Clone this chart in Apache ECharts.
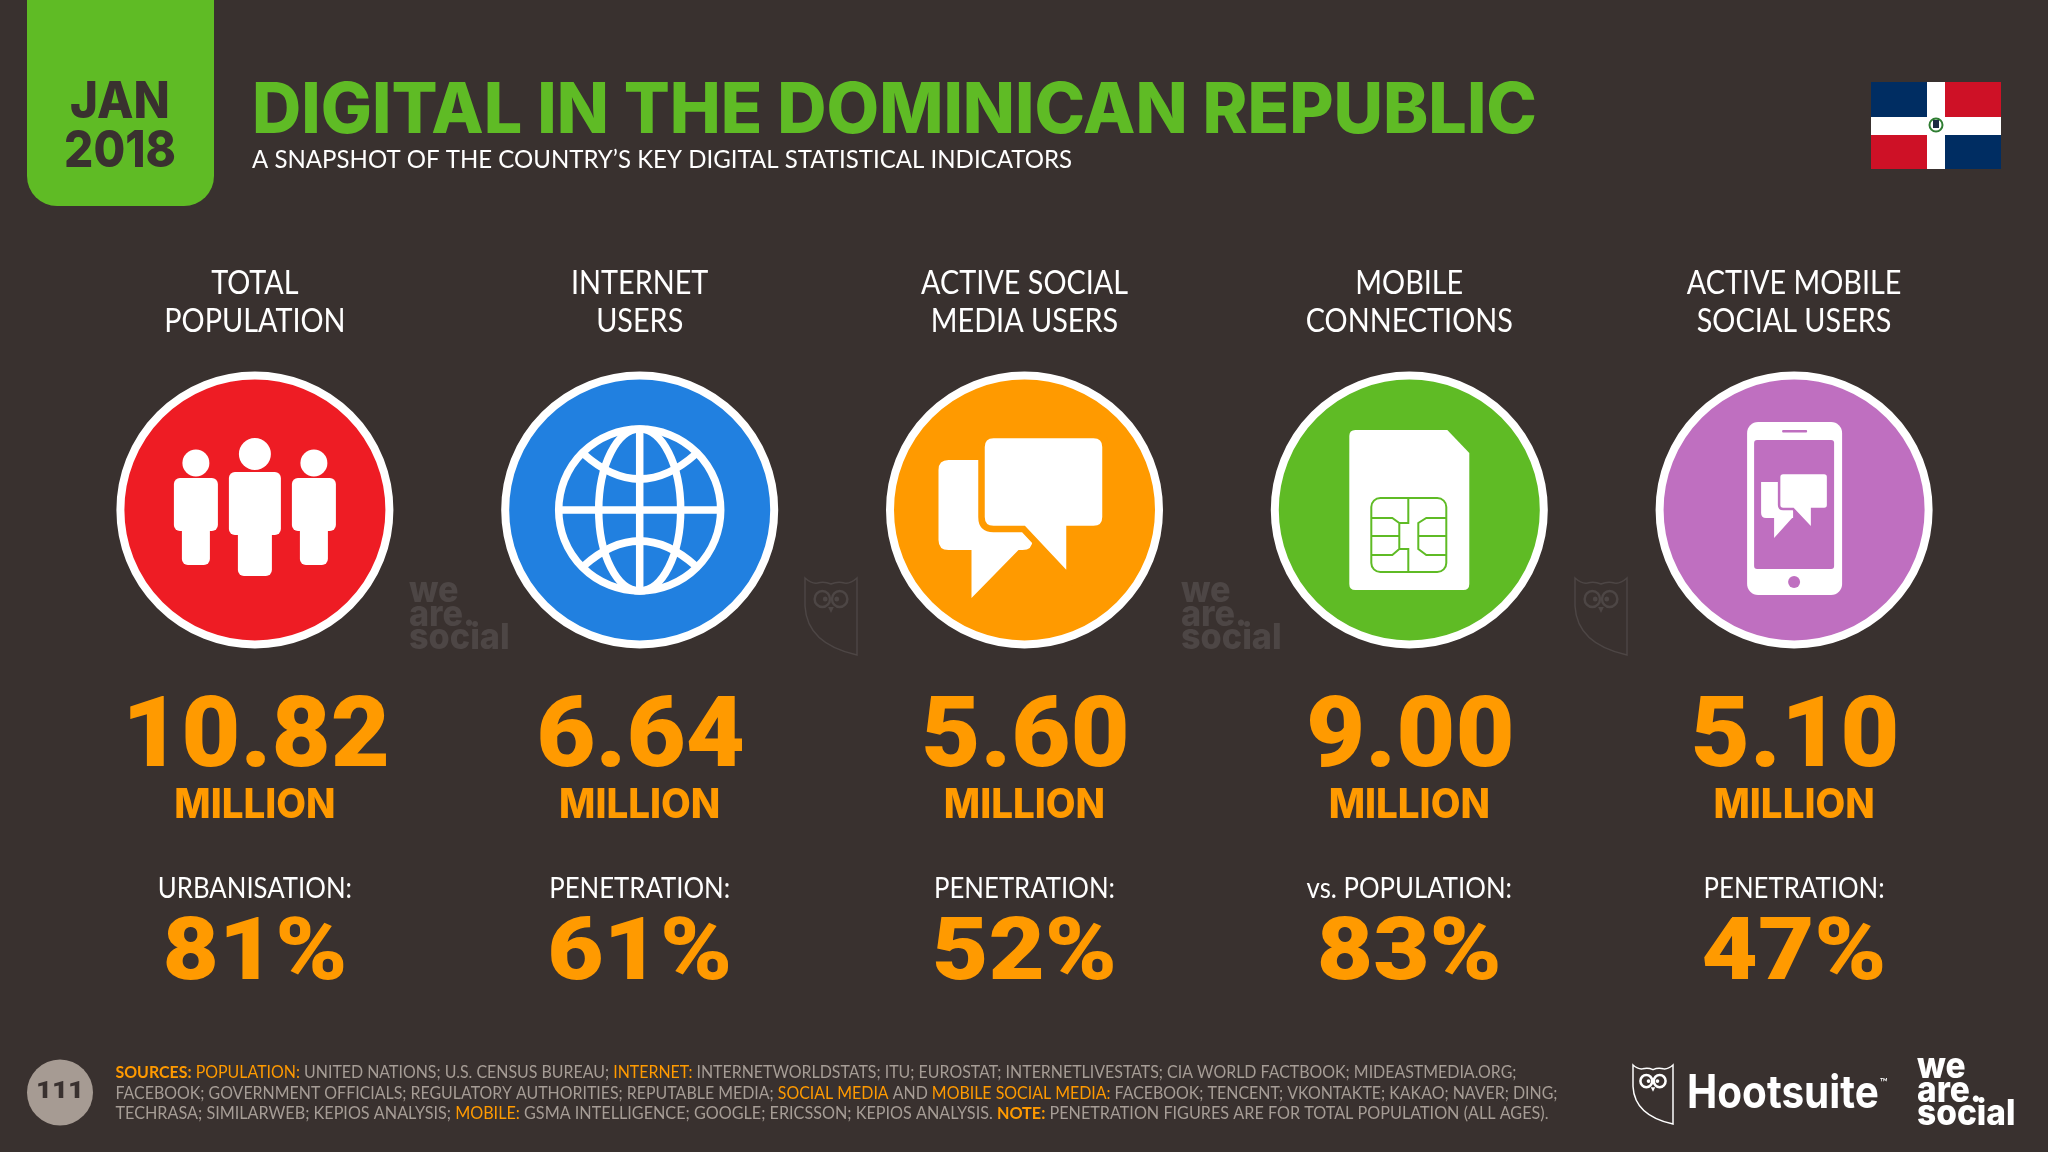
<!DOCTYPE html>
<html>
<head>
<meta charset="utf-8">
<title>Digital in the Dominican Republic</title>
<style>
  html, body { margin: 0; padding: 0; background: #39312f; }
  #chart { width: 2048px; height: 1152px; }
</style>
</head>
<body>
<div id="chart"></div>
<script src="https://cdn.jsdelivr.net/npm/echarts@6/dist/echarts.min.js"></script>
<script>
const headerLines = [
  ["TOTAL", "POPULATION"],
  ["INTERNET", "USERS"],
  ["ACTIVE SOCIAL", "MEDIA USERS"],
  ["MOBILE", "CONNECTIONS"],
  ["ACTIVE MOBILE", "SOCIAL USERS"]
]
const totals = [10.82, 6.64, 5.60, 9.00, 5.10]
const unitLabel = "MILLION"
const shareLabels = ["URBANISATION:", "PENETRATION:", "PENETRATION:", "vs. POPULATION:", "PENETRATION:"]
const shares = [81, 61, 52, 83, 47]
const discColors = ["#ee1c24", "#2180e0", "#ff9a00", "#5fbb25", "#bf6fc0"]
const iconNames = ["people", "globe", "chat", "sim", "phone"]

const sourceLines = [
  [["SOURCES:", "bold"], [" POPULATION:", "hi"], [" UNITED NATIONS; U.S. CENSUS BUREAU; ", "low"], ["INTERNET:", "hi"], [" INTERNETWORLDSTATS; ITU; EUROSTAT; INTERNETLIVESTATS; CIA WORLD FACTBOOK; MIDEASTMEDIA.ORG;", "low"]],
  [["FACEBOOK; GOVERNMENT OFFICIALS; REGULATORY AUTHORITIES; REPUTABLE MEDIA; ", "low"], ["SOCIAL MEDIA", "hi"], [" AND ", "low"], ["MOBILE SOCIAL MEDIA:", "hi"], [" FACEBOOK; TENCENT; VKONTAKTE; KAKAO; NAVER; DING;", "low"]],
  [["TECHRASA; SIMILARWEB; KEPIOS ANALYSIS; ", "low"], ["MOBILE:", "hi"], [" GSMA INTELLIGENCE; GOOGLE; ERICSSON; KEPIOS ANALYSIS. ", "low"], ["NOTE:", "bold"], [" PENETRATION FIGURES ARE FOR TOTAL POPULATION (ALL AGES).", "low"]]
]

const BG = "#39312f"
const GREEN = "#5fbb25"
const ORANGE = "#ff9a00"
const WHITE = "#ffffff"
const GREY = "#a69d96"
const MARK = "#4d4645"
const THIN = "Lato, sans-serif"
const HEAVY = "Inter, sans-serif"
const DIGITS = "Roboto, sans-serif"

const measure = document.createElement("canvas").getContext("2d")

function widthOf(text, font) {
  measure.font = font
  return measure.measureText(text).width
}

function label(text, x, y, size, weight, family, fill, squeeze, align) {
  return {
    type: "text",
    x,
    y,
    scaleX: squeeze,
    style: {
      text,
      fill,
      font: `${weight} ${size}px ${family}`,
      align: align || "center",
      verticalAlign: "middle"
    }
  }
}

function fitted(text, x, y, size, weight, family, fill, width) {
  const squeeze = width / widthOf(text, `${weight} ${size}px ${family}`)
  return label(text, x, y, size, weight, family, fill, squeeze, "left")
}

function box(x, y, w, h, r, fill) {
  return { type: "rect", shape: { x, y, width: w, height: h, r }, style: { fill } }
}

function path(d, style) {
  return { type: "path", shape: { pathData: d }, style }
}

function person(dx, headY, headR, halfBody, bodyTop, bodyBottom, halfLeg, legBottom) {
  return [
    { type: "circle", shape: { cx: dx, cy: headY, r: headR }, style: { fill: WHITE } },
    box(dx - halfBody, bodyTop, halfBody * 2, bodyBottom - bodyTop, 6, WHITE),
    box(dx - halfLeg, bodyBottom - 8, halfLeg * 2, legBottom - bodyBottom + 8, 6, WHITE)
  ]
}

function peopleIcon() {
  return [
    ...person(-59, -47, 13.5, 22, -32, 21, 14, 55),
    ...person(59, -47, 13.5, 22, -32, 21, 14, 55),
    ...person(0, -56, 16, 26, -38, 25, 17, 66)
  ]
}

function globeIcon() {
  const line = { fill: "none", stroke: WHITE, lineWidth: 7.5 }
  return [
    { type: "circle", shape: { cx: 0, cy: 0, r: 81 }, style: line },
    { type: "ellipse", shape: { cx: 0, cy: 0, rx: 41, ry: 81 }, style: line },
    path("M0 -81 L0 81 M-81 0 L81 0", line),
    path("M-56 -56 Q0 -6 56 -56 M-56 56 Q0 6 56 56", line)
  ]
}

function bubble(left, top, right, bottom, r) {
  return `M${left + r} ${top} L${right - r} ${top} Q${right} ${top} ${right} ${top + r} L${right} ${bottom - r} Q${right} ${bottom} ${right - r} ${bottom} `
}

function chatIcon(fill) {
  const back = `${bubble(-86, -50, 8, 40, 10)}L-6 40 L-53 88 L-53 40 L-76 40 Q-86 40 -86 30 L-86 -40 Q-86 -50 -76 -50 Z`
  const front = `${bubble(-43, -75, 81, 19, 12)}L45 19 L45 68 L-1 19 L-31 19 Q-43 19 -43 7 L-43 -63 Q-43 -75 -31 -75 Z`
  return [
    path(back, { fill: WHITE }),
    path(front, { fill: WHITE, stroke: fill, lineWidth: 6.5 })
  ]
}

function simIcon(fill) {
  const chip = { fill: "none", stroke: fill, lineWidth: 2 }
  return [
    path("M-54 -80 L38 -80 L60 -57 L60 74 Q60 80 54 80 L-54 80 Q-60 80 -60 74 L-60 -74 Q-60 -80 -54 -80 Z", { fill: WHITE }),
    { type: "rect", shape: { x: -38, y: -12, width: 75, height: 74, r: 9 }, style: chip },
    path("M-38 8 L-17 8 L-10 13 L-1 13 L-1 -12 M-38 45 L-17 45 L-10 39 L-1 39 L-1 62 M-10 13 L-10 39 M-38 26 L-10 26 M37 8 L17 8 L9 13 L9 39 L17 45 L37 45 M9 26 L37 26", chip)
  ]
}

function phoneIcon(fill) {
  const small = "M-33 -28 L-1 -28 L-1 8 L-2 8 L-20 28 L-20 8 L-28 8 Q-33 8 -33 3 Z"
  const big = "M-11 -37 L30 -37 Q34 -37 34 -33 L34 -5 Q34 -1 30 -1 L18 -1 L18 19 L-1 -1 L-11 -1 Q-15 -1 -15 -5 L-15 -33 Q-15 -37 -11 -37 Z"
  return [
    box(-47, -88, 95, 173, 11, WHITE),
    box(-40, -70, 80, 129, 3, fill),
    box(-12, -80, 25, 2.5, 1, fill),
    { type: "circle", shape: { cx: 0, cy: 72, r: 6 }, style: { fill } },
    path(small, { fill: WHITE }),
    path(big, { fill: WHITE, stroke: fill, lineWidth: 2.5 })
  ]
}

const iconBuilders = { people: peopleIcon, globe: globeIcon, chat: chatIcon, sim: simIcon, phone: phoneIcon }

const totalFont = `900 98px ${DIGITS}`
const shareFont = `900 87px ${DIGITS}`

function renderColumn(params, api) {
  const i = params.dataIndex
  const x = api.coord([i, 0])[0]
  const fill = discColors[i]
  // digits are tabular, so one squeeze from the widest value holds for every column
  const totalSqueeze = 268 / widthOf(totals[0].toFixed(2), totalFont)
  const shareSqueeze = 185 / widthOf(`${shares[0]}%`, shareFont)
  return {
    type: "group",
    children: [
      label(headerLines[i][0], x, 284, 32, 400, THIN, WHITE, 0.9),
      label(headerLines[i][1], x, 322, 32, 400, THIN, WHITE, 0.9),
      { type: "circle", shape: { cx: x, cy: 510, r: 134.5 }, style: { fill, stroke: WHITE, lineWidth: 8 } },
      { type: "group", x, y: 510, children: iconBuilders[iconNames[i]](fill) },
      label(totals[i].toFixed(2), x + 1, 741, 98, 900, DIGITS, ORANGE, totalSqueeze),
      label(unitLabel, x, 806, 41, 800, HEAVY, ORANGE, 0.94),
      label(shareLabels[i], x, 889, 28, 400, THIN, WHITE, 0.92),
      label(`${shares[i]}%`, x, 957, 87, 900, DIGITS, ORANGE, shareSqueeze)
    ]
  }
}

function owl(x, y, w, h, color, lineWidth) {
  const ink = { fill: "none", stroke: color, lineWidth }
  const ring = { fill: "none", stroke: color, lineWidth: lineWidth * 1.7 }
  return {
    type: "group",
    x,
    y,
    scaleX: w / 54,
    scaleY: h / 77,
    children: [
      path("M0 0 Q7 6 13 5 Q20 3 27 6 Q34 3 41 5 Q47 6 54 0 L54 77 Q2 66 0 28 Z", ink),
      { type: "circle", shape: { cx: 18, cy: 21, r: 8 }, style: ring },
      { type: "circle", shape: { cx: 36, cy: 21, r: 8 }, style: ring },
      { type: "circle", shape: { cx: 21, cy: 21, r: 2.5 }, style: { fill: color } },
      { type: "circle", shape: { cx: 33, cy: 21, r: 2.5 }, style: { fill: color } },
      path("M24 29 L30 29 L27 35 Z", { fill: color })
    ]
  }
}

function wordmark(x, y, size, color, squeeze) {
  const step = size * 0.66
  return ["we", "are.", "social"].map((word, n) =>
    label(word, x, y + n * step, size, 800, HEAVY, color, squeeze, "left"))
}

function sourceLine(segments, y, width) {
  const styleOf = (kind) => kind === "bold"
    ? { weight: 700, fill: ORANGE }
    : { weight: 400, fill: kind === "hi" ? ORANGE : GREY }
  const fontOf = (kind) => `${styleOf(kind).weight} 17px ${THIN}`
  const total = segments.reduce((sum, [text, kind]) => sum + widthOf(text, fontOf(kind)), 0)
  const squeeze = width / total
  let x = 115.5
  return segments.map(([text, kind]) => {
    const el = label(text, x, y, 17, styleOf(kind).weight, THIN, styleOf(kind).fill, squeeze, "left")
    x += widthOf(text, fontOf(kind)) * squeeze
    return el
  })
}

function renderFrame() {
  return {
    type: "group",
    children: [
      box(27, -40, 187, 246, 30, GREEN),
      label("JAN", 120, 103, 51, 800, HEAVY, BG, 0.93),
      label("2018", 120, 152, 51, 800, HEAVY, BG, 0.9),
      fitted("DIGITAL IN THE DOMINICAN REPUBLIC", 252, 112, 70, 800, HEAVY, GREEN, 1285),
      fitted("A SNAPSHOT OF THE COUNTRY\u2019S KEY DIGITAL STATISTICAL INDICATORS", 252, 160, 25, 400, THIN, WHITE, 820),

      box(1871, 82, 130, 87, 0, "#ffffff"),
      box(1871, 82, 56, 35, 0, "#002d62"),
      box(1945, 82, 56, 35, 0, "#ce1126"),
      box(1871, 135, 56, 34, 0, "#ce1126"),
      box(1945, 135, 56, 34, 0, "#002d62"),
      { type: "circle", shape: { cx: 1936, cy: 125, r: 6.5 }, style: { fill: "#ffffff", stroke: "#2f7d32", lineWidth: 2 } },
      box(1933, 120, 6, 8, 0, "#1d2a44"),

      ...wordmark(409, 591, 36, MARK, 0.95),
      owl(805, 578, 52, 77, MARK, 1.5),
      ...wordmark(1181, 591, 36, MARK, 0.95),
      owl(1575, 578, 52, 77, MARK, 1.5),

      { type: "circle", shape: { cx: 60, cy: 1092.5, r: 33 }, style: { fill: "#a69b93" } },
      label("111", 60, 1092, 23, 900, DIGITS, BG, 1.2),
      ...sourceLine(sourceLines[0], 1073, 1401),
      ...sourceLine(sourceLines[1], 1094, 1442),
      ...sourceLine(sourceLines[2], 1114, 1433),

      owl(1633, 1065, 40, 59, WHITE, 2),
      label("Hootsuite", 1687, 1094, 46, 700, HEAVY, WHITE, 0.88, "left"),
      label("\u2122", 1880, 1082, 11, 400, THIN, WHITE, 1, "left"),
      ...wordmark(1917, 1067, 36, WHITE, 0.93)
    ]
  }
}

const chart = echarts.init(document.getElementById("chart"), null, { renderer: "canvas" })

chart.setOption({
  backgroundColor: BG,
  animation: false,
  grid: { left: 62.5, width: 1924, top: 0, bottom: 0 },
  xAxis: { type: "category", data: headerLines.map((h) => h.join(" ")), show: false },
  yAxis: { type: "value", min: 0, max: 1, show: false },
  series: [
    { type: "custom", silent: true, renderItem: renderFrame, data: [[0, 0]] },
    { type: "custom", silent: true, renderItem: renderColumn, data: totals.map((value, i) => [i, value]) }
  ]
})
</script>
</body>
</html>
